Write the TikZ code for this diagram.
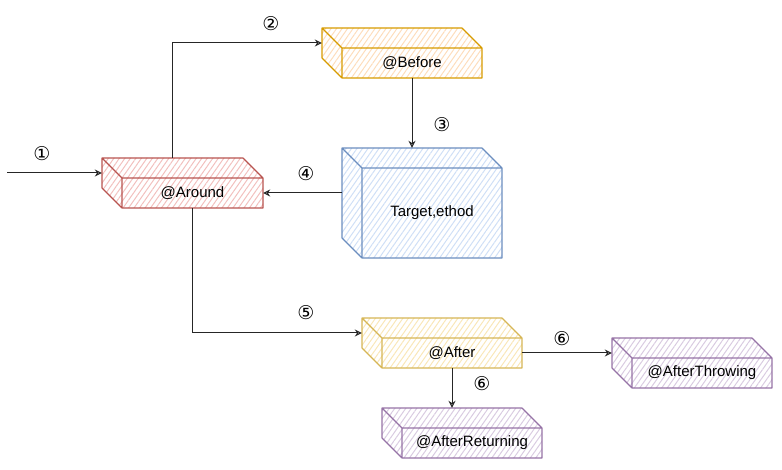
\documentclass[tikz,border=0pt]{standalone}
\usepackage{fontspec}
\setmainfont{Liberation Sans}
\newfontfamily\circfont{DejaVu Sans}
\usetikzlibrary{arrows.meta,patterns.meta}

\definecolor{redline}{HTML}{B85450}
\definecolor{redfill}{HTML}{F2C0BE}
\definecolor{orangeline}{HTML}{D79B00}
\definecolor{orangefill}{HTML}{FDDDBC}
\definecolor{blueline}{HTML}{6C8EBF}
\definecolor{bluefill}{HTML}{CFDFF6}
\definecolor{yellowline}{HTML}{D6B656}
\definecolor{yellowfill}{HTML}{F9E7B8}
\definecolor{purpleline}{HTML}{9673A6}
\definecolor{purplefill}{HTML}{D9CBE1}

\begin{document}
\begin{tikzpicture}[x=1pt, y=-1pt, every node/.style={font=\fontsize{15}{18}\selectfont},
  flow/.style={draw=black!85, line width=1pt, -{Stealth[open,length=7pt,width=7pt]}},
  step label/.style={font=\circfont\fontsize{19}{21}\selectfont}]
  \useasboundingbox (0,0) rectangle (782,470);

  % name, x1, y1, x2, y2, colour, text
  \def\cube#1#2#3#4#5#6#7{
    \fill[pattern={Lines[angle=55,distance=4.5pt,line width=1pt]}, pattern color=#6fill]
      (#2,#3) -- ({#4-20},#3) -- (#4,{#3+20}) -- (#4,#5) -- ({#2+20},#5) -- (#2,{#5-20}) -- cycle;
    \draw[#6line, line width=1.1pt, line join=round]
      (#2,#3) -- ({#4-20},#3) -- (#4,{#3+20}) -- (#4,#5) -- ({#2+20},#5) -- (#2,{#5-20}) -- cycle
      (#2,#3) -- ({#2+20},{#3+20}) -- (#4,{#3+20})
      ({#2+20},{#3+20}) -- ({#2+20},#5);
    \node[inner sep=0, minimum width={#4-#2}, minimum height={#5-#3}] (#1)
      at ({(#2+#4)/2},{(#3+#5)/2}) {};
    \node (#1-text) at ({(#2+#4)/2+10},{(#3+#5)/2+10}) {#7};
  }

  \cube{around}{102}{158}{263}{208}{red}{@Around}
  \cube{before}{322}{28}{482}{78}{orange}{@Before}
  \cube{target}{342}{148}{502}{258}{blue}{Target,ethod}
  \cube{after}{362}{318}{522}{368}{yellow}{@After}
  \cube{throwing}{612}{338}{772}{388}{purple}{@AfterThrowing}
  \cube{returning}{382}{408}{542}{458}{purple}{@AfterReturning}

  \coordinate (start) at (7,173);
  \draw[flow] (start) -- (start -| around.west);
  \draw[flow] ([xshift=-10pt]around.north) |- ([yshift=10pt]before.west);
  \draw[flow] (before.south -| before-text) -- (target.north -| before-text);
  \draw[flow] (target.west |- around-text) -- (around.east |- around-text);
  \draw[flow] (around.south -| around-text) |- ([yshift=10pt]after.west);
  \draw[flow] (after.east |- after-text) -- (throwing.west |- after-text);
  \draw[flow] (after.south -| after-text) -- (returning.north -| after-text);

  \node[step label] (s1) at (42,154) {①};
  \node[step label] (s2) at (271,24) {②};
  \node[step label] (s3) at (442,125) {③};
  \node[step label] (s4) at (306,174) {④};
  \node[step label] (s5) at (306,313) {⑤};
  \node[step label] (s6a) at (562,339) {⑥};
  \node[step label] (s6b) at (482,384) {⑥};
\end{tikzpicture}
\end{document}
